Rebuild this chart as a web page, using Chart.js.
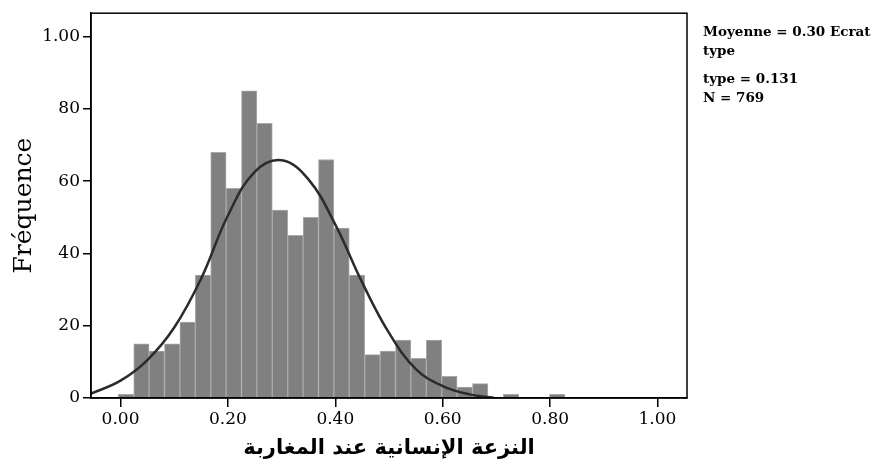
<!DOCTYPE html>
<html>
<head>
<meta charset="utf-8">
<script src="https://cdn.jsdelivr.net/npm/chart.js@4"></script>
<style>
  html, body { margin: 0; padding: 0; background: #fff; }
  #wrap { width: 877px; height: 467px; position: relative; }
</style>
</head>
<body>
<div id="wrap"><canvas id="histChart"></canvas></div>
<script>
// histogram bins (centre of each bin) and counts
const binCenters = [0.0102, 0.0389, 0.0676, 0.0962, 0.1249, 0.1536, 0.1823, 0.2110, 0.2396, 0.2683,
                    0.2970, 0.3257, 0.3544, 0.3830, 0.4117, 0.4404, 0.4691, 0.4978, 0.5264, 0.5551,
                    0.5838, 0.6125, 0.6412, 0.6698, 0.6985, 0.7272, 0.7559, 0.7846, 0.8132];
const binCounts = [1, 15, 13, 15, 21, 34, 68, 58, 85, 76,
                   52, 45, 50, 66, 47, 34, 12, 13, 16, 11,
                   16, 6, 3, 4, 0, 1, 0, 0, 1];

// fitted normal curve
const curveX = [-0.055, 0.00, 0.05, 0.10, 0.15, 0.20, 0.25, 0.30, 0.35, 0.40, 0.45, 0.50, 0.55, 0.60, 0.65, 0.695];
const curveY = [1.2, 4.8, 10.5, 19.5, 33.0, 50.5, 62.6, 65.8, 60.5, 48.0, 32.0, 18.0, 8.0, 3.3, 1.0, 0.1];

const xTicks = [0, 0.2, 0.4, 0.6, 0.8, 1.0];
const yTicks = [0, 20, 40, 60, 80, 100];
const yTickLabels = ['0', '20', '40', '60', '80', '1.00'];

const statLines = ['Moyenne = 0.30 Ecrat', 'type', 'type = 0.131', 'N = 769'];

const xTitle = 'النزعة الإنسانية عند المغاربة';
const yTitle = 'Fréquence';

const serif = '"DejaVu Serif", "Liberation Serif", serif';

// frame around the plot + the stats text on the right
const framePlugin = {
    id: 'frame',
    afterDatasetsDraw(chart) {
        const a = chart.chartArea;
        const c = chart.ctx;
        c.save();
        c.strokeStyle = '#000';
        c.lineWidth = 1.5;
        c.strokeRect(a.left, a.top, a.right - a.left, a.bottom - a.top);
        c.restore();
    },
    afterDraw(chart) {
        const c = chart.ctx;
        const a = chart.chartArea;
        c.save();
        c.fillStyle = '#000';
        c.font = 'bold 13.5px ' + serif;
        c.textBaseline = 'alphabetic';
        c.textAlign = 'left';
        const x = a.right + 16;
        const ys = [36, 55, 83, 102];
        statLines.forEach((t, i) => c.fillText(t, x, ys[i]));
        c.restore();
    }
};

const ctx = document.getElementById('histChart').getContext('2d');
const histChart = new Chart(ctx, {
    type: 'bar',
    data: {
        datasets: [{
            type: 'line',
            data: curveX.map((x, i) => ({ x: x, y: curveY[i] })),
            borderColor: '#2b2b2b',
            borderWidth: 2.5,
            pointRadius: 0,
            tension: 0.4,
            fill: false,
            order: 0
        }, {
            type: 'bar',
            data: binCenters.map((x, i) => ({ x: x, y: binCounts[i] })),
            backgroundColor: '#808080',
            borderColor: '#a9a9a9',
            borderWidth: 1,
            barPercentage: 1.0,
            categoryPercentage: 1.0,
            order: 1
        }]
    },
    options: {
        responsive: true,
        maintainAspectRatio: false,
        animation: false,
        layout: { padding: { top: 9, right: 190, left: 0, bottom: 0 } },
        plugins: {
            legend: { display: false },
            tooltip: { enabled: false }
        },
        scales: {
            x: {
                type: 'linear',
                min: -0.055,
                max: 1.055,
                offset: false,
                afterBuildTicks: (s) => { s.ticks = xTicks.map(v => ({ value: v })); },
                afterFit: (s) => { s.height = 69; },
                grid: { drawOnChartArea: false, offset: false, tickLength: 9, color: '#000', lineWidth: 1.5 },
                border: { color: '#000', width: 1.5 },
                ticks: {
                    color: '#000',
                    padding: 2,
                    maxRotation: 0,
                    font: { family: serif, size: 17 },
                    callback: (v) => v.toFixed(2)
                },
                title: {
                    display: true,
                    text: xTitle,
                    color: '#000',
                    font: { family: '"DejaVu Sans", sans-serif', size: 21, weight: 'bold' },
                    padding: { top: 0, bottom: 6 }
                }
            },
            y: {
                min: 0,
                max: 106.5,
                afterBuildTicks: (s) => { s.ticks = yTicks.map(v => ({ value: v })); },
                afterFit: (s) => { s.width = 91; },
                grid: { drawOnChartArea: false, tickLength: 8, color: '#000', lineWidth: 1.5 },
                border: { color: '#000', width: 1.5 },
                ticks: {
                    color: '#000',
                    padding: 3,
                    font: { family: serif, size: 17 },
                    callback: (v) => yTickLabels[yTicks.indexOf(v)]
                },
                title: {
                    display: true,
                    text: yTitle,
                    color: '#000',
                    font: { family: serif, size: 25 },
                    padding: { top: 9, bottom: 0 }
                }
            }
        }
    },
    plugins: [framePlugin]
});
</script>
</body>
</html>
